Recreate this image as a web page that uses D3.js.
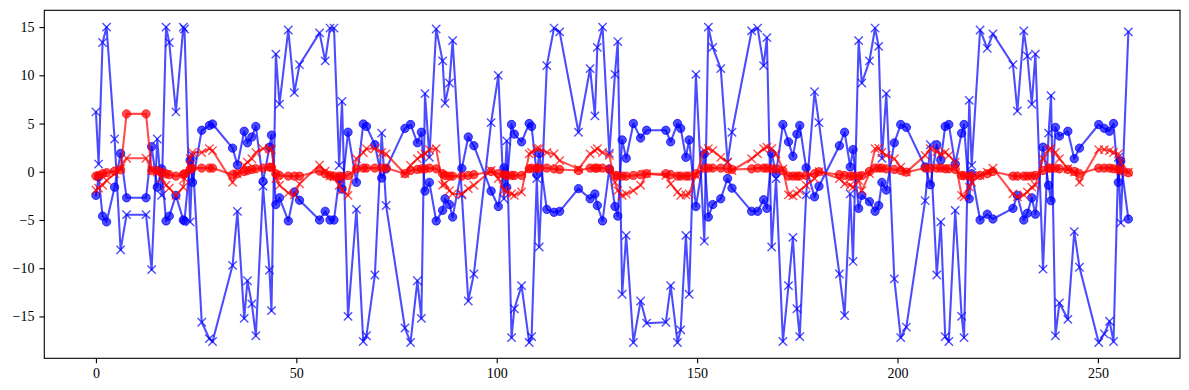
<!DOCTYPE html>
<meta charset="utf-8">
<html>
  <head>
    <title>Four series</title>
    <style>
      body { margin: 0; background: #fff; }
      text { font-family: "Liberation Serif", "DejaVu Serif", serif; }
    </style>
  </head>
  <body>
    <div id="chart"></div>
    <script src="https://d3js.org/d3.v7.min.js"></script>
    <script>

      // shared x positions of every sample
      const xs = [0.0, 0.67, 1.66, 2.66, 4.66, 6.16, 7.65, 12.5, 13.9, 15.3, 16.4, 17.5, 18.3, 19.96, 21.8, 22.1,
        23.5, 24.1, 26.4, 28.3, 29.1, 34.1, 35.3, 37.0, 37.8, 38.9, 39.9, 41.7, 43.3, 43.8, 44.9, 45.8,
        48.0, 49.5, 50.8, 55.8, 57.2, 58.4, 59.4, 60.7, 61.4, 62.9, 65.0, 66.7, 67.5, 69.6, 71.3, 72.4,
        77.1, 78.5, 80.2, 81.2, 82.1, 83.2, 84.9, 86.5, 87.1, 88.2, 89.0, 91.3, 92.9, 94.3, 98.6, 100.4,
        101.8, 102.5, 103.7, 104.4, 106.2, 108.1, 108.7, 110.0, 110.6, 112.5, 114.3, 115.7, 120.4, 123.3, 124.5, 125.1,
        126.4, 128.1, 129.5, 130.2, 131.3, 132.3, 134.1, 135.9, 137.4, 142.2, 143.4, 145.1, 145.9, 147.2, 148.0, 149.7,
        151.8, 152.8, 153.9, 155.9, 157.6, 158.7, 163.6, 165.1, 166.6, 167.4, 168.6, 169.7, 171.4, 172.8, 173.9, 174.9,
        175.6, 177.2, 179.3, 180.4, 185.5, 186.8, 188.2, 188.9, 190.3, 191.1, 193.0, 194.4, 195.3, 196.1, 197.2, 199.2,
        200.8, 202.2, 206.9, 208.2, 209.8, 210.8, 211.9, 212.8, 214.4, 216.0, 216.6, 217.9, 218.5, 220.6, 222.4, 223.8,
        228.8, 229.9, 231.5, 232.4, 233.5, 234.4, 236.3, 237.7, 238.3, 239.4, 240.4, 242.5, 244.1, 245.4, 250.2, 251.6,
        252.9, 253.9, 255.1, 255.7, 257.6];

      // blue, "x" markers
      const blueX = [6.2, 0.8, 13.4, 15.0, 3.4, -8.1, -4.45, -4.45, -10.15, 3.4, -2.45, 15.0, 13.4, 6.2, 15.0, 14.8,
        -5.2, 1.7, -15.6, -17.3, -17.6, -9.7, -4.1, -15.2, -11.3, -13.7, -17.0, -1.5, -10.2, -14.4, 12.2, 7.0,
        14.7, 8.2, 11.1, 14.4, 11.5, 14.9, 14.9, 0.65, 7.3, -15.0, -3.9, -17.6, -17.0, -10.7, 4.0, -3.5,
        -16.2, -17.7, -11.3, -15.2, 8.1, 1.5, 14.8, 11.5, 7.1, 9.2, 13.6, -2.4, -13.4, -10.6, 5.1, 10.0,
        -2.8, 3.2, -17.2, -14.2, -11.8, -17.7, -17.1, -0.7, -7.8, 11.0, 14.9, 14.5, 4.1, 10.7, 5.8, 12.9,
        15.0, 1.9, 10.1, 13.5, -12.7, -6.6, -17.7, -13.4, -15.7, -15.6, -11.8, -17.7, -16.4, -6.6, -12.7, 10.1,
        -7.2, 15.0, 12.9, 10.7, 1.0, 4.1, 14.6, 14.9, 11.0, 13.9, -7.8, -0.7, -17.6, -11.8, -6.8, -14.2,
        -17.1, -2.4, 8.3, 5.1, -10.6, -14.9, -2.3, -9.3, 13.6, 9.2, 11.5, 14.9, 13.0, 1.4, 8.1, -11.1,
        -17.2, -16.1, -3.0, 2.8, -10.7, -5.2, -17.1, -17.6, -4.0, -15.0, -17.2, 7.4, 0.65, 14.7, 12.8, 14.3,
        11.1, 6.3, 14.6, 12.0, 7.0, 12.2, -10.1, 4.0, 7.9, -17.0, -13.6, -15.3, -6.2, -9.9, -17.7, -16.8,
        -15.5, -17.6, 1.5, -5.3, 14.5];

      // blue, "o" markers
      const blueO = [-2.45, -0.55, -4.6, -5.2, -1.6, 1.9, -2.7, -2.7, 2.6, -1.6, 0.3, -5.1, -4.6, -2.45, -5.0, -5.1,
        1.2, -1.1, 4.3, 4.8, 4.95, 2.45, 0.7, 4.2, 3.0, 3.6, 4.7, -1.0, 2.55, 3.8, -3.4, -2.7,
        -5.1, -2.1, -2.95, -5.0, -4.1, -5.0, -5.0, -0.7, -1.8, 4.1, -1.1, 4.95, 4.7, 2.8, -0.65, 0.3,
        4.5, 4.9, 3.0, 4.1, -2.0, -1.1, -5.1, -4.0, -2.8, -3.4, -4.7, 0.35, 3.6, 2.7, -2.0, -3.6,
        0.4, -1.6, 4.9, 3.9, 3.1, 5.0, 4.7, -0.3, 1.9, -3.9, -4.2, -4.1, -1.75, -2.8, -2.3, -3.5,
        -5.1, 0.3, -3.6, -4.6, 3.3, 1.4, 5.0, 3.5, 4.3, 4.3, 3.1, 5.0, 4.5, 1.5, 3.3, -3.6,
        1.85, -4.7, -3.4, -2.8, -0.7, -1.7, -4.1, -4.1, -2.9, -3.8, 1.9, -0.2, 4.9, 3.1, 1.6, 3.9,
        4.8, 0.4, -2.6, -1.5, 2.7, 4.1, 0.5, 2.3, -3.8, -2.45, -3.1, -4.1, -3.5, -1.1, -1.9, 3.0,
        4.9, 4.6, 0.5, -1.35, 2.8, 1.2, 4.7, 4.9, 0.8, 4.0, 4.9, -2.8, -0.2, -5.0, -4.4, -4.9,
        -3.8, -2.45, -5.0, -4.3, -2.7, -4.4, 2.55, -1.4, -3.0, 4.6, 3.7, 4.2, 1.35, 2.45, 4.9, 4.5,
        4.2, 5.0, -1.1, 1.1, -4.9];

      // red, "x" markers
      const redX = [-1.9, -1.7, -1.4, -0.9, -0.2, 0.3, 1.4, 1.4, 0.13, -0.04, -0.7, -1.4, -1.7, -2.45, -1.6, -0.7,
        1.35, 2.0, 2.0, 2.4, 2.2, -1.1, -0.2, 0.65, 1.0, 1.35, 2.0, 2.4, 2.4, 2.3, -0.7, -1.4,
        -2.2, -2.4, -1.25, 0.7, 0.07, -0.45, -0.55, -1.4, -1.9, -2.45, 1.35, 2.0, 2.4, 2.4, 2.0, 1.85,
        -0.2, 0.65, 1.35, 1.7, 1.85, 2.3, 2.4, -1.4, -1.25, -1.95, -2.3, -2.3, -1.75, -1.4, 0.13, -0.7,
        -1.9, -2.1, -2.3, -2.45, -2.1, 1.85, 2.0, 2.4, 2.4, 2.0, 1.85, 1.15, 0.3, 1.85, 2.2, 2.4,
        2.0, 1.7, -1.1, -1.95, -2.45, -2.3, -1.95, -1.4, -0.2, -0.38, -1.25, -2.1, -2.45, -2.4, -2.3, -0.38,
        2.2, 2.4, 2.2, 1.5, 1.0, 0.13, 1.35, 1.85, 2.4, 2.55, 2.4, 1.85, 0.3, -2.4, -2.5, -2.3,
        -1.95, -1.4, -0.7, 0.0, -0.7, -1.25, -1.4, -1.6, -0.9, -1.95, -0.2, 2.4, 2.45, 2.0, 1.7, 1.35,
        0.48, -0.04, 1.7, 2.4, 2.1, 1.85, 2.0, 1.7, 1.0, -2.45, -2.6, -1.6, -1.1, -0.38, -0.04, 0.38,
        -2.3, -2.6, -2.4, -2.1, -1.6, -1.4, 1.35, 2.3, 2.4, 2.0, 1.35, 0.31, -0.04, -1.1, 2.3, 2.3,
        2.2, 2.0, 1.85, 1.0, -0.04];

      // red, "o" markers
      const redO = [-0.45, -0.38, -0.21, -0.1, 0.07, 0.2, 6.0, 6.0, 0.13, 0.13, -0.04, -0.21, -0.3, -0.45, -0.3, -0.21,
        0.24, 0.38, 0.38, 0.38, 0.38, -0.3, -0.2, 0.03, 0.13, 0.24, 0.31, 0.38, 0.48, 0.45, -0.2, -0.38,
        -0.45, -0.45, -0.45, 0.07, -0.2, -0.38, -0.45, -0.45, -0.5, -0.38, 0.3, 0.38, 0.38, 0.38, 0.38, 0.38,
        -0.2, 0.13, 0.24, 0.3, 0.3, 0.38, 0.3, -0.2, -0.38, -0.45, -0.45, -0.45, -0.38, -0.3, 0.03, -0.2,
        -0.3, -0.38, -0.38, -0.38, -0.38, 0.3, 0.38, 0.38, 0.38, 0.38, 0.3, 0.24, 0.13, 0.38, 0.38, 0.38,
        0.38, 0.24, -0.38, -0.4, -0.45, -0.45, -0.38, -0.3, -0.2, -0.2, -0.3, -0.45, -0.45, -0.45, -0.45, -0.2,
        0.38, 0.38, 0.38, 0.38, 0.3, 0.24, 0.3, 0.38, 0.38, 0.38, 0.3, 0.3, 0.1, -0.45, -0.45, -0.45,
        -0.45, -0.38, -0.2, 0.0, -0.3, -0.38, -0.45, -0.45, -0.45, -0.4, 0.03, 0.38, 0.38, 0.38, 0.3, 0.24,
        0.13, -0.04, 0.38, 0.38, 0.38, 0.38, 0.31, 0.31, 0.24, -0.38, -0.4, -0.45, -0.45, -0.38, -0.2, 0.03,
        -0.45, -0.45, -0.45, -0.45, -0.45, -0.38, 0.13, 0.38, 0.38, 0.38, 0.31, 0.24, 0.03, -0.2, 0.38, 0.38,
        0.38, 0.31, 0.24, 0.13, -0.1];

      const xTicks = [0, 50, 100, 150, 200, 250];
      const yTicks = [-15, -10, -5, 0, 5, 10, 15];

      // axes box inside the 1189 x 390 page
      const margin = {top: 10.3, right: 9, bottom: 31.7, left: 44.3},
          width = 1189 - margin.left - margin.right,
          height = 390 - margin.top - margin.bottom;

      const svg = d3.select("#chart")
        .append("svg")
          .attr("width", 1189)
          .attr("height", 390)
        .append("g")
          .attr("transform", `translate(${margin.left}, ${margin.top})`);

      const xScale = d3.scaleLinear().domain([-12.88, 270.48]).range([0, width]);
      const yScale = d3.scaleLinear().domain([-19.34, 16.74]).range([height, 0]);

      const series = [
        {vals: blueX, color: "#0000ff", marker: "x"},
        {vals: blueO, color: "#0000ff", marker: "o"},
        {vals: redX,  color: "#ff0000", marker: "x"},
        {vals: redO,  color: "#ff0000", marker: "o"}
      ];

      const line = d3.line()
        .x(d => xScale(d[0]))
        .y(d => yScale(d[1]));

      const plot = svg.append("g");
      const s = 4.17; // half size of the x marker

      series.forEach(ser => {
        const pts = xs.map((x, i) => [x, ser.vals[i]]);
        plot.append("path")
          .datum(pts)
          .attr("d", line)
          .attr("fill", "none")
          .attr("stroke", ser.color)
          .attr("stroke-opacity", 0.7)
          .attr("stroke-width", 2.08)
          .attr("stroke-linejoin", "round")
          .attr("stroke-linecap", "square");

        if (ser.marker === "o") {
          plot.selectAll(null)
            .data(pts)
            .join("circle")
              .attr("cx", d => xScale(d[0]))
              .attr("cy", d => yScale(d[1]))
              .attr("r", 4.17)
              .attr("fill", ser.color)
              .attr("fill-opacity", 0.7)
              .attr("stroke", ser.color)
              .attr("stroke-opacity", 0.7)
              .attr("stroke-width", 1);
        } else {
          plot.selectAll(null)
            .data(pts)
            .join("path")
              .attr("transform", d => `translate(${xScale(d[0])}, ${yScale(d[1])})`)
              .attr("d", `M${-s},${-s}L${s},${s}M${-s},${s}L${s},${-s}`)
              .attr("fill", "none")
              .attr("stroke", ser.color)
              .attr("stroke-opacity", 0.7)
              .attr("stroke-width", 1.39);
        }
      });

      // axes
      const xAxis = svg.append("g")
        .attr("transform", `translate(0, ${height})`)
        .call(d3.axisBottom(xScale).tickValues(xTicks).tickSize(4.9).tickPadding(4.9)
          .tickFormat(d => d3.format("d")(d)));
      const yAxis = svg.append("g")
        .call(d3.axisLeft(yScale).tickValues(yTicks).tickSize(4.9).tickPadding(4.9)
          .tickFormat(d => (d < 0 ? "\u2212" + Math.abs(d) : d)));

      [xAxis, yAxis].forEach(ax => {
        ax.select(".domain").remove();
        ax.selectAll(".tick line").attr("stroke", "#000").attr("stroke-width", 1.1);
        ax.selectAll(".tick text")
          .attr("fill", "#000")
          .style("font-size", "14px");
      });

      // frame
      svg.append("rect")
        .attr("width", width)
        .attr("height", height)
        .attr("fill", "none")
        .attr("stroke", "#000")
        .attr("stroke-width", 1.1);

    </script>
  </body>
</html>
